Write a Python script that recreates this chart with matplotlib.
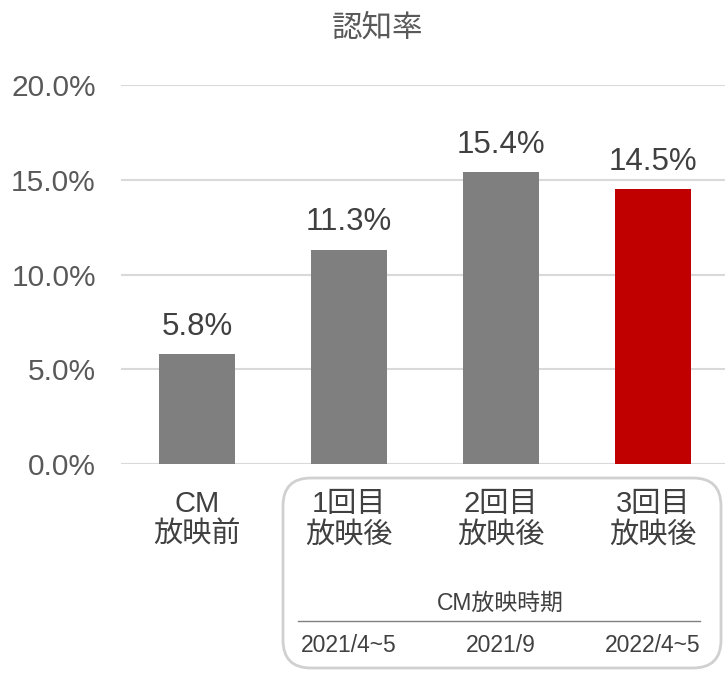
import matplotlib
matplotlib.use("Agg")
import matplotlib.pyplot as plt
from matplotlib.patches import FancyBboxPatch
from matplotlib.transforms import IdentityTransform
from matplotlib.lines import Line2D

plt.rcParams['font.family'] = ['Liberation Sans', 'Noto Sans CJK JP', 'DejaVu Sans']

title = "認知率"
categories = ["CM\n放映前", "1回目\n放映後", "2回目\n放映後", "3回目\n放映後"]
values = [5.8, 11.3, 15.4, 14.5]
colors = ["#7F7F7F", "#7F7F7F", "#7F7F7F", "#C00000"]
yticks = [0, 5, 10, 15, 20]
period_title = "CM放映時期"
periods = ["2021/4~5", "2021/9", "2022/4~5"]

W, H = 725, 673
fig = plt.figure(figsize=(W / 100, H / 100), dpi=100)
ax = fig.add_axes([121 / W, 1 - 464 / H, 608 / W, (464 - 85) / H])

x = list(range(len(categories)))
ax.bar(x, values, width=0.5, color=colors, zorder=3)
ax.set_xlim(-0.5, 3.5)
ax.set_ylim(0, 20)
ax.set_yticks(yticks)
ax.set_yticklabels([f"{v:.1f}%" for v in yticks], fontsize=21.5, color="#595959")
ax.set_xticks(x)
ax.set_xticklabels(categories, fontsize=21, color="#404040", linespacing=1.12)
ax.tick_params(axis='both', length=0)
ax.tick_params(axis='y', pad=18)
ax.tick_params(axis='x', pad=19)
for s in ax.spines.values():
    s.set_visible(False)
ax.grid(axis='y', color="#D9D9D9", linewidth=1.5, zorder=0)
ax.set_axisbelow(True)

for xi, v in zip(x, values):
    ax.annotate(f"{v:.1f}%", (xi, v), xytext=(0, 9), textcoords="offset points",
                ha="center", va="bottom", fontsize=22.5, color="#404040")

fig.text(378 / W, 1 - 29 / H, title, ha="center", va="center",
         fontsize=22, color="#595959")

# rounded box
box = FancyBboxPatch((283 + 28, (H - 668) + 28), (721 - 283) - 56, (668 - 478) - 56,
                     boxstyle="round,pad=28", transform=IdentityTransform(),
                     facecolor="none", edgecolor="#D0D0D0", linewidth=2)
fig.patches.append(box)

fig.text(500 / W, 1 - 603 / H, period_title, ha="center", va="center",
         fontsize=16.5, color="#404040")
fig.lines.append(Line2D([298 / W, 700 / W], [1 - 621 / H, 1 - 621 / H],
                        transform=fig.transFigure, color="#808080", linewidth=1))
for xi, p in zip(x[1:], periods):
    px = ax.transData.transform((xi, 0))[0] / W
    fig.text(px, 1 - 646 / H, p, ha="center", va="center", fontsize=16.5, color="#404040")

fig.savefig("out.png", dpi=100)
